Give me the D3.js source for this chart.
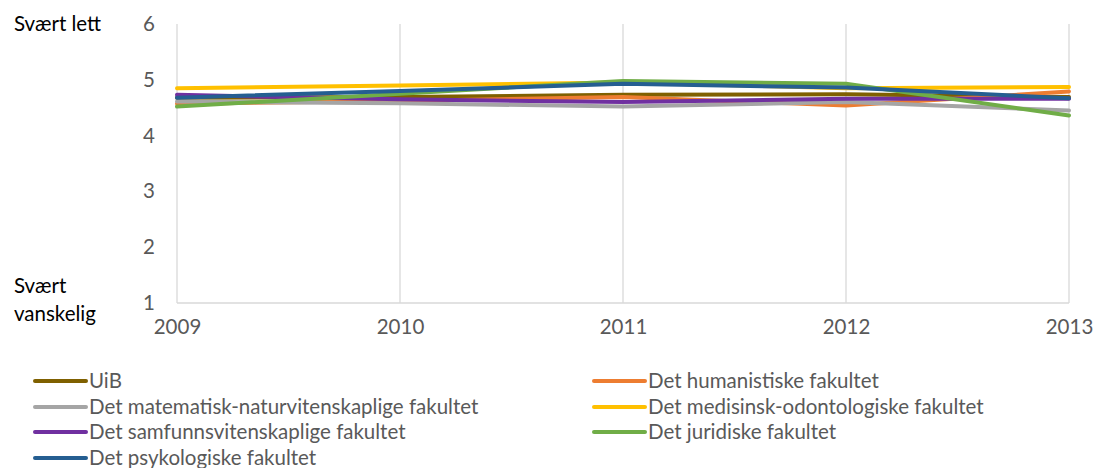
<!DOCTYPE html>
<html>
<head>
<meta charset="utf-8">
<script src="https://cdn.jsdelivr.net/npm/d3@7"></script>
<style>
  body { margin: 0; background: #fff; }
  svg text { font-family: Lato, "Open Sans", sans-serif; }
</style>
</head>
<body>
<div id="root"></div>
<script>
"use strict";

const years = [2009, 2010, 2011, 2012, 2013];
const yTicks = [1, 2, 3, 4, 5, 6];
const seriesNames = [
  "UiB",
  "Det humanistiske fakultet",
  "Det matematisk-naturvitenskaplige fakultet",
  "Det medisinsk-odontologiske fakultet",
  "Det samfunnsvitenskaplige fakultet",
  "Det juridiske fakultet",
  "Det psykologiske fakultet",
];
const uib = [4.68, 4.69, 4.73, 4.74, 4.69];
const humanist = [4.57, 4.62, 4.69, 4.54, 4.79];
const matnat = [4.61, 4.58, 4.52, 4.6, 4.45];
const medisin = [4.85, 4.9, 4.95, 4.85, 4.87];
const samfunn = [4.73, 4.65, 4.6, 4.66, 4.66];
const juridisk = [4.52, 4.75, 4.98, 4.93, 4.36];
const psyk = [4.68, 4.8, 4.93, 4.86, 4.67];
const seriesValues = [uib, humanist, matnat, medisin, samfunn, juridisk, psyk];
const colors = ["#7f6000", "#ed7d31", "#a5a5a5", "#ffc000", "#7030a0", "#70ad47", "#255e91"];

const width = 1095;
const height = 468;
const fontSize = 20.5;
const plot = { left: 177, right: 1069, top: 24, bottom: 303 };

const x = d3.scaleLinear().domain([2009, 2013]).range([plot.left, plot.right]);
const y = d3.scaleLinear().domain([1, 6]).range([plot.bottom, plot.top]);

const svg = d3.select("#root")
  .append("svg")
  .attr("width", width)
  .attr("height", height);

// vertical gridlines
svg.append("g")
  .selectAll("line")
  .data(years)
  .enter()
  .append("line")
  .attr("x1", (d) => x(d))
  .attr("x2", (d) => x(d))
  .attr("y1", plot.top)
  .attr("y2", plot.bottom)
  .attr("stroke", "#d9d9d9")
  .attr("stroke-width", 1.3);

// bottom axis line
svg.append("line")
  .attr("x1", plot.left)
  .attr("x2", plot.right)
  .attr("y1", plot.bottom)
  .attr("y2", plot.bottom)
  .attr("stroke", "#d9d9d9")
  .attr("stroke-width", 1.3);

const yAxis = d3.axisLeft(y).tickValues(yTicks).tickSize(0).tickPadding(0).tickFormat(d3.format("d"));
svg.append("g")
  .attr("transform", "translate(155,0)")
  .call(yAxis)
  .call((g) => g.select(".domain").remove())
  .selectAll("text")
  .attr("font-size", fontSize)
  .attr("fill", "#595959")
  .attr("text-anchor", "end");

const xAxis = d3.axisBottom(x).tickValues(years).tickSize(0).tickPadding(0).tickFormat(d3.format("d"));
svg.append("g")
  .attr("transform", `translate(0,${plot.bottom + 16})`)
  .call(xAxis)
  .call((g) => g.select(".domain").remove())
  .selectAll("text")
  .attr("font-size", fontSize)
  .attr("fill", "#595959")
  .attr("dy", "0.71em");

// side labels
svg.append("text").attr("x", 14).attr("y", 31).attr("font-size", fontSize).attr("fill", "#000").text("Svært lett");
svg.append("text").attr("x", 14).attr("y", 293).attr("font-size", fontSize).attr("fill", "#000").text("Svært");
svg.append("text").attr("x", 14).attr("y", 321).attr("font-size", fontSize).attr("fill", "#000").text("vanskelig");

const line = d3.line()
  .x((d, i) => x(years[i]))
  .y((d) => y(d));

svg.append("g")
  .selectAll("path")
  .data(seriesValues)
  .enter()
  .append("path")
  .attr("d", (d) => line(d))
  .attr("fill", "none")
  .attr("stroke", (d, i) => colors[i])
  .attr("stroke-width", 4)
  .attr("stroke-linejoin", "round")
  .attr("stroke-linecap", "round");

// legend, two columns
const legendCols = [33, 592];
const legendRows = [381, 407, 432, 458];
const legend = svg.append("g")
  .selectAll("g")
  .data(seriesNames)
  .enter()
  .append("g")
  .attr("transform", (d, i) => `translate(${legendCols[i % 2]},${legendRows[Math.floor(i / 2)]})`);

legend.append("line")
  .attr("x1", 2)
  .attr("x2", 53)
  .attr("stroke", (d, i) => colors[i])
  .attr("stroke-width", 4)
  .attr("stroke-linecap", "round");

legend.append("text")
  .attr("x", 56)
  .attr("dy", "0.35em")
  .attr("font-size", fontSize)
  .attr("fill", "#595959")
  .text((d) => d);
</script>
</body>
</html>
